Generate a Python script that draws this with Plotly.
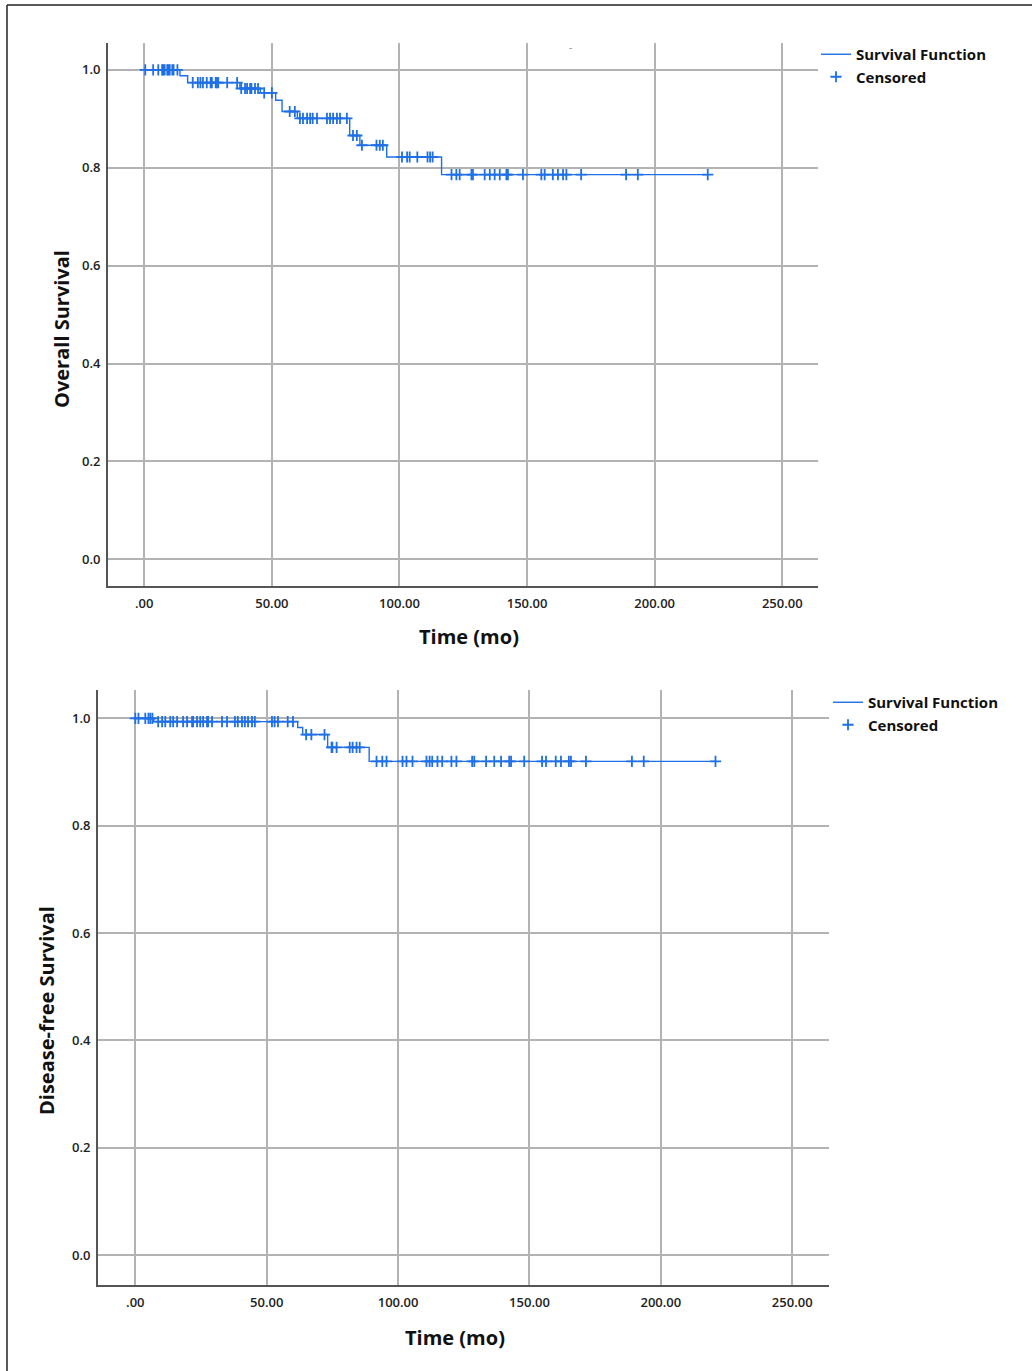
import plotly.graph_objects as go

# ---------------- data ----------------
# Overall survival: event times (months) and KM level after each event
os_event_times = [14.0, 17.0, 37.5, 45.5, 51.5, 54.0, 60.0, 80.5, 84.5, 95.0, 116.5]
os_event_surv = [0.988, 0.974, 0.962, 0.953, 0.938, 0.915, 0.901, 0.866, 0.846, 0.822, 0.786]
os_censor_times = [0.4, 3.5, 5.5, 7.0, 7.5, 8.0, 9.0, 9.5, 10.0, 11.0, 11.5, 13.0,
                   19.0, 21.0, 22.0, 23.0, 24.5, 26.0, 26.5, 28.0, 28.5, 29.0, 32.5, 36.4,
                   38.0, 39.5, 40.3, 41.5, 42.0, 43.4, 44.6, 47.0, 50.0,
                   57.0, 59.0,
                   61.0, 62.2, 63.8, 65.0, 66.0, 67.7, 71.6, 72.8, 74.0, 75.5, 76.7, 79.4,
                   81.8, 83.3, 85.3, 91.0, 92.3, 93.5,
                   101.0, 103.0, 104.0, 107.0, 111.0, 112.0, 113.0,
                   120.4, 122.3, 123.6, 128.2, 128.8, 133.4, 135.4, 137.3, 139.3, 141.9,
                   142.5, 148.4, 155.6, 156.9, 160.1, 162.1, 164.1, 165.4, 171.2, 188.8,
                   193.4, 220.8]

# Disease-free survival
dfs_event_times = [7.0, 61.8, 63.7, 73.2, 89.0]
dfs_event_surv = [0.994, 0.983, 0.970, 0.946, 0.920]
dfs_censor_times = [0.0, 1.2, 3.8, 5.0, 5.7, 6.5,
                    8.7, 10.2, 11.4, 13.3, 14.4, 15.9, 18.2, 19.7, 21.6, 22.0, 23.5, 24.7,
                    25.8, 27.3, 27.7, 29.2, 33.0, 34.9, 37.9, 39.0, 40.6, 41.7, 42.9, 44.4,
                    45.5, 52.0, 53.0, 54.3, 58.0, 60.0,
                    65.0, 67.0, 72.0,
                    74.7, 75.0, 76.6, 81.6, 82.7, 84.2, 85.4,
                    91.8, 94.0, 95.6,
                    101.7, 103.2, 105.5, 110.8, 112.0, 113.0, 115.0, 116.8, 120.3, 122.2,
                    128.2, 129.0, 133.5, 136.6, 139.2, 142.3, 143.0, 148.0, 154.8, 156.3,
                    160.0, 162.0, 165.0, 165.8, 171.5, 189.0, 193.5, 220.8]

x_tickvals = [0, 50, 100, 150, 200, 250]
x_ticktext = [".00", "50.00", "100.00", "150.00", "200.00", "250.00"]
y_tickvals = [0.0, 0.2, 0.4, 0.6, 0.8, 1.0]
y_ticktext = ["0.0", "0.2", "0.4", "0.6", "0.8", "1.0"]

BLUE = "#1f6fe6"
GRID = "#b3b3b3"
AXIS = "#555555"
FONT = "Open Sans"
W, H = 1032, 1371


def km_step(event_t, event_s, censor_t):
    end = max(censor_t)
    xs = [0.0] + list(event_t) + [end]
    ys = [1.0] + list(event_s) + [event_s[-1]]
    return xs, ys


def surv_at(t, event_t, event_s):
    s = 1.0
    for et, es in zip(event_t, event_s):
        if t >= et:
            s = es
    return s


fig = go.Figure()

panels = [
    dict(ev=os_event_times, sv=os_event_surv, ce=os_censor_times, xa="x", ya="y", leg="legend"),
    dict(ev=dfs_event_times, sv=dfs_event_surv, ce=dfs_censor_times, xa="x2", ya="y2", leg="legend2"),
]
for p in panels:
    xs, ys = km_step(p["ev"], p["sv"], p["ce"])
    fig.add_trace(go.Scatter(x=xs, y=ys, mode="lines", line=dict(color=BLUE, width=1.4, shape="hv"),
                             name="Survival Function", xaxis=p["xa"], yaxis=p["ya"], legend=p["leg"]))
    cy = [surv_at(t, p["ev"], p["sv"]) for t in p["ce"]]
    fig.add_trace(go.Scatter(x=p["ce"], y=cy, mode="markers", name="Censored",
                             marker=dict(symbol="cross-thin", size=8, color=BLUE,
                                         line=dict(color=BLUE, width=1.8)),
                             xaxis=p["xa"], yaxis=p["ya"], legend=p["leg"]))


def dx(a, b):
    return [a / W, b / W]


def dy(top, bottom):
    return [1 - bottom / H, 1 - top / H]


tickfont = dict(family=FONT, size=13, color="#222", weight=600)
xcommon = dict(range=[-14.2, 264], tickvals=x_tickvals, ticktext=x_ticktext, showgrid=True,
               gridcolor=GRID, gridwidth=1.5, zeroline=False, showline=True, linecolor=AXIS,
               linewidth=2, ticks="", ticklabelstandoff=4, tickfont=tickfont)
ycommon = dict(tickvals=y_tickvals, ticktext=y_ticktext, showgrid=True, gridcolor=GRID,
               gridwidth=1.5, zeroline=False, showline=True, linecolor=AXIS, linewidth=2,
               ticks="", ticklabelstandoff=3, tickfont=tickfont)

legfont = dict(family=FONT, size=15, color="#111", weight=700)
fig.update_layout(
    width=W, height=H, margin=dict(l=0, r=0, t=0, b=0),
    paper_bgcolor="white", plot_bgcolor="white",
    xaxis=dict(domain=dx(108, 818), anchor="y", **xcommon),
    yaxis=dict(domain=dy(43, 586), anchor="x", range=[-0.0547, 1.055], **ycommon),
    xaxis2=dict(domain=dx(98, 829), anchor="y2", **xcommon),
    yaxis2=dict(domain=dy(690, 1285), anchor="x2", range=[-0.056, 1.053], **ycommon),
    legend=dict(x=816 / W, y=1 - 38 / H, xanchor="left", yanchor="top", font=legfont,
                bgcolor="rgba(0,0,0,0)", tracegroupgap=0, itemwidth=30),
    legend2=dict(x=828 / W, y=1 - 686 / H, xanchor="left", yanchor="top", font=legfont,
                 bgcolor="rgba(0,0,0,0)", tracegroupgap=0, itemwidth=30),
    showlegend=True,
)

ann_font = dict(family=FONT, size=20, color="#111", weight=700)
fig.add_annotation(text="Time (mo)", x=469 / W, y=1 - 637 / H, xref="paper", yref="paper",
                   showarrow=False, font=ann_font, xanchor="center", yanchor="middle")
fig.add_annotation(text="Overall Survival", x=62 / W, y=1 - 329 / H, xref="paper", yref="paper",
                   showarrow=False, font=ann_font, textangle=-90, xanchor="center", yanchor="middle")
fig.add_annotation(text="Time (mo)", x=455 / W, y=1 - 1337 / H, xref="paper", yref="paper",
                   showarrow=False, font=ann_font, xanchor="center", yanchor="middle")
fig.add_annotation(text="Disease-free Survival", x=46 / W, y=1 - 1011 / H, xref="paper", yref="paper",
                   showarrow=False, font=ann_font, textangle=-90, xanchor="center", yanchor="middle")
fig.add_annotation(text="-", x=570 / W, y=1 - 38 / H, xref="paper", yref="paper",
                   showarrow=False, font=dict(family=FONT, size=10, color="#888"))

# outer frame (left and top edges)
fig.add_shape(type="line", xref="paper", yref="paper", x0=7 / W, x1=1.0, y0=1 - 5 / H, y1=1 - 5 / H,
              line=dict(color="#222", width=1.5))
fig.add_shape(type="line", xref="paper", yref="paper", x0=7 / W, x1=7 / W, y0=0, y1=1 - 5 / H,
              line=dict(color="#222", width=1.5))

fig.write_html("out.html", config={"displayModeBar": False},
               post_script="document.body.style.margin='0';")
